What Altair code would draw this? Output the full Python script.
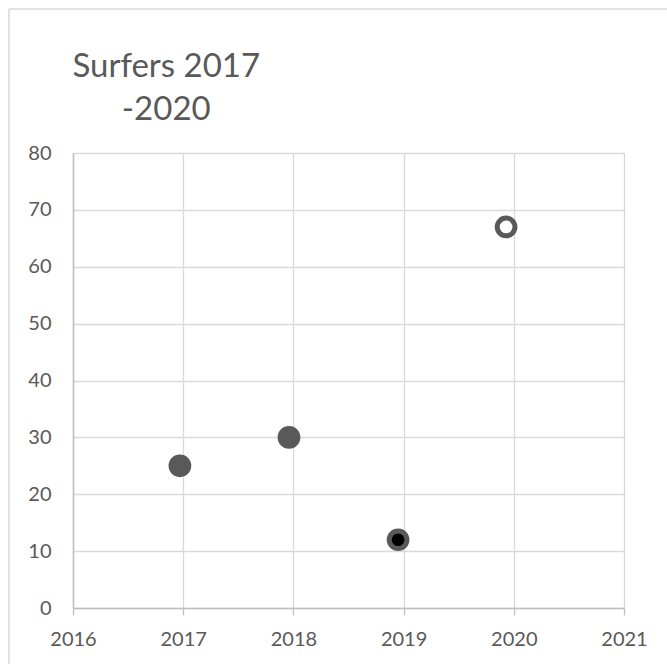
import altair as alt
import pandas as pd

# Surfer counts per season
years = [2016.97, 2017.96, 2018.95, 2019.93]
surfers = [25, 30, 12, 67]
marker = ["regular", "regular", "highlight", "open"]

x_ticks = [2016, 2017, 2018, 2019, 2020, 2021]
y_ticks = [0, 10, 20, 30, 40, 50, 60, 70, 80]

df = pd.DataFrame({"year": years, "surfers": surfers, "marker": marker})

GRAY = "#595959"
FONT = "Lato"

points = (
    alt.Chart(df)
    .mark_point(shape="circle", filled=True, size=314, stroke=GRAY, strokeWidth=5, opacity=1)
    .encode(
        x=alt.X(
            "year:Q",
            scale=alt.Scale(domain=[2016, 2021], nice=False, zero=False),
            axis=alt.Axis(
                values=x_ticks, format="d", title=None,
                grid=True, gridColor="#d9d9d9", gridWidth=1.3,
                domainColor="#bfbfbf", domainWidth=1.5,
                ticks=True, tickSize=7, tickColor="#bfbfbf", tickWidth=1.3,
                labelPadding=14, labelFontSize=20, labelFont=FONT, labelColor=GRAY,
                labelFlush=False,
            ),
        ),
        y=alt.Y(
            "surfers:Q",
            scale=alt.Scale(domain=[0, 80], nice=False),
            axis=alt.Axis(
                values=y_ticks, title=None,
                grid=True, gridColor="#d9d9d9", gridWidth=1.3,
                domainColor="#bfbfbf", domainWidth=1.5,
                ticks=False, tickSize=0,
                labelPadding=22, labelFontSize=20, labelFont=FONT, labelColor=GRAY,
                labelFlush=False,
            ),
        ),
        fill=alt.Fill(
            "marker:N",
            scale=alt.Scale(domain=["regular", "highlight", "open"], range=[GRAY, "#000000", "#ffffff"]),
            legend=None,
        ),
    )
)

# Outer chart frame (top and left edges)
frame_top = alt.Chart().mark_rule(color="#d9d9d9", strokeWidth=1.5).encode(
    x=alt.value(-64), x2=alt.value(620), y=alt.value(-144)
)
frame_left = alt.Chart().mark_rule(color="#d9d9d9", strokeWidth=1.5).encode(
    x=alt.value(-64), y=alt.value(-144), y2=alt.value(520)
)

chart = (
    alt.layer(frame_top, frame_left, points)
    .properties(
        width=551,
        height=455,
        autosize=alt.AutoSizeParams(type="none"),
        padding={"left": 73, "top": 153, "right": 43, "bottom": 56},
        title=alt.TitleParams(
            text=["Surfers 2017", "-2020"],
            anchor="start", align="center", dx=158, dy=119, offset=0,
            font=FONT, fontSize=33, fontWeight="normal", color=GRAY, lineHeight=43,
        ),
    )
    .configure_view(stroke=None)
    .configure(background="white")
)

chart.save("out.html", embed_options={"renderer": "svg", "actions": False})
